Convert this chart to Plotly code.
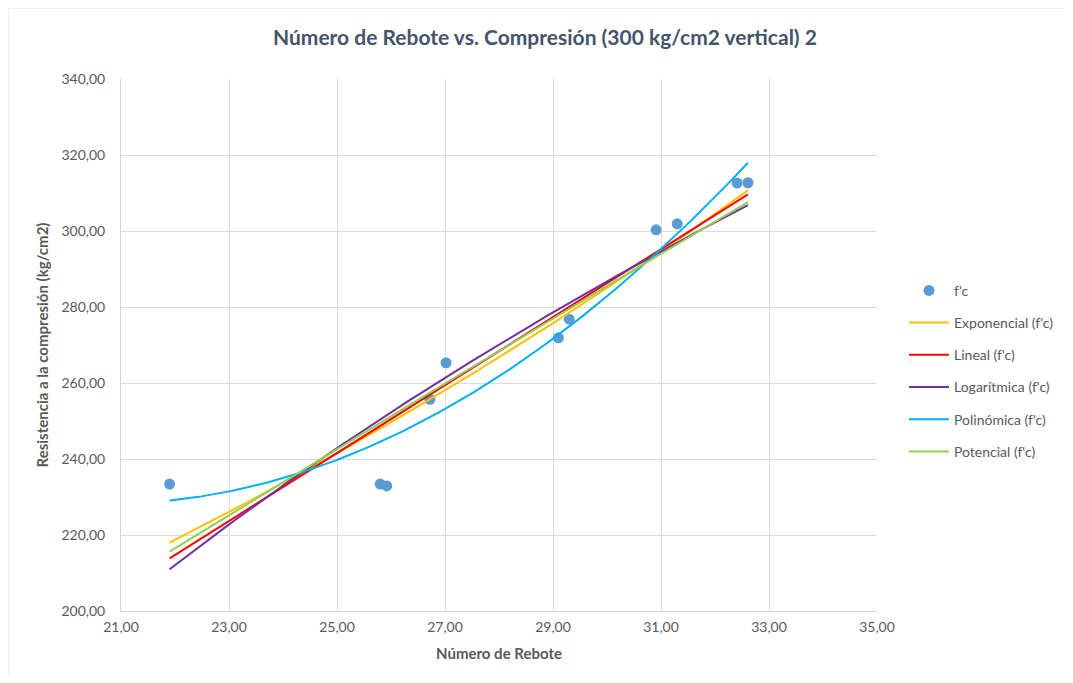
import numpy as np
import plotly.graph_objects as go

# Data
rebote = [21.9, 25.8, 25.92, 26.72, 27.02, 29.1, 29.3, 30.91, 31.3, 32.41, 32.61]
fc = [233.4, 233.4, 232.9, 255.7, 265.3, 271.9, 276.8, 300.3, 301.9, 312.6, 312.7]

x_ticks = [21, 23, 25, 27, 29, 31, 33, 35]
y_ticks = [200, 220, 240, 260, 280, 300, 320, 340]

x = np.array(rebote)
y = np.array(fc)
xs = np.linspace(x.min(), x.max(), 200)

# Excel-style trendlines computed from the data (least squares)
b_exp = np.polyfit(x, np.log(y), 1)
y_exp = np.exp(b_exp[1]) * np.exp(b_exp[0] * xs)
b_lin = np.polyfit(x, y, 1)
y_lin = np.polyval(b_lin, xs)
b_log = np.polyfit(np.log(x), y, 1)
y_log = b_log[0] * np.log(xs) + b_log[1]
b_poly = np.polyfit(x, y, 2)
y_poly = np.polyval(b_poly, xs)
b_pow = np.polyfit(np.log(x), np.log(y), 1)
y_pow = np.exp(b_pow[1]) * xs ** b_pow[0]

font_family = "Lato, 'Open Sans', sans-serif"
grey = "#595959"

fig = go.Figure()
fig.add_trace(go.Scatter(x=rebote, y=fc, mode="markers", name="f'c", legendgroup="g0",
                         marker=dict(color="#5B9BD5", size=11)))
lines = [
    ("Exponencial (f'c)", y_exp, "#FFC000"),
    ("Lineal (f'c)", y_lin, "#FF0000"),
    ("Logarítmica (f'c)", y_log, "#7030A0"),
    ("Polinómica (f'c)", y_poly, "#00B0F0"),
    ("Potencial (f'c)", y_pow, "#92D050"),
]
for i, (name, ys, col) in enumerate(lines):
    fig.add_trace(go.Scatter(x=xs, y=ys, mode="lines", name=name, legendgroup=f"g{i+1}",
                             line=dict(color=col, width=2)))

axis_common = dict(
    showgrid=True, gridcolor="#D9DDE3", gridwidth=1,
    showline=True, linecolor="#D0D5DC", linewidth=1,
    zeroline=False, ticks="",
    tickfont=dict(family=font_family, size=14, color=grey),
)
fig.update_layout(
    width=1057, height=667,
    paper_bgcolor="white", plot_bgcolor="white",
    margin=dict(l=113, r=188, t=71, b=64, autoexpand=False),
    title=dict(text="<b>Número de Rebote vs. Compresión (300 kg/cm2 vertical) 2</b>",
               x=0.508, xanchor="center", y=0.955, yanchor="middle",
               font=dict(family=font_family, size=21, color="#44546A")),
    xaxis=dict(range=[21, 35], tickvals=x_ticks,
               ticktext=[f"{v:.2f}".replace(".", ",") for v in x_ticks],
               ticklabelstandoff=3,
               title=dict(text="<b>Número de Rebote</b>", standoff=14,
                          font=dict(family=font_family, size=15, color=grey)),
               **axis_common),
    yaxis=dict(range=[200, 340], tickvals=y_ticks,
               ticktext=[f"{v:.2f}".replace(".", ",") for v in y_ticks],
               ticklabelstandoff=12,
               title=dict(text="<b>Resistencia a la compresión (kg/cm2)</b>", standoff=9,
                          font=dict(family=font_family, size=15, color=grey)),
               **axis_common),
    legend=dict(xref="container", yref="container", x=0.8477, y=0.600,
                xanchor="left", yanchor="top",
                font=dict(family=font_family, size=14, color=grey),
                tracegroupgap=11, itemwidth=40,
                bgcolor="rgba(0,0,0,0)"),
    showlegend=True,
)

# thin frame lines of the sheet (top and left)
fig.add_shape(type="line", xref="paper", yref="paper",
              x0=-113/756, x1=1.3, y0=(611-8)/532, y1=(611-8)/532,
              line=dict(color="#D9DDE3", width=1))
fig.add_shape(type="line", xref="paper", yref="paper",
              x0=-113/756, x1=-113/756, y0=-0.14, y1=(611-8)/532,
              line=dict(color="#D9DDE3", width=1))

fig.write_html("out.html")
